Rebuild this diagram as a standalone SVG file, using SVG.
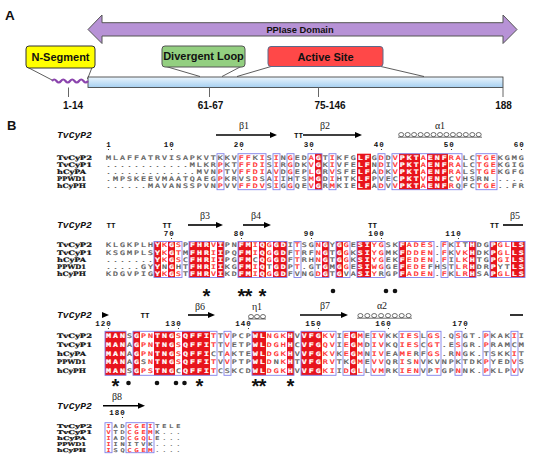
<svg xmlns="http://www.w3.org/2000/svg" width="550" height="471" viewBox="0 0 550 471">
<style>
.pl{font-family:"Liberation Sans",Arial,sans-serif;font-weight:bold;fill:#111}
.seq{font-family:"DejaVu Sans Mono",monospace;font-size:6.15px;letter-spacing:1.483px;fill:#5a5a5a;stroke:#5a5a5a;stroke-width:0.22px}
.s4{font-size:5.1px;letter-spacing:2.115px}
.r{fill:#ff2a2a;stroke:#ff2a2a}
.w{fill:#fff;stroke:#fff;font-weight:bold}
.nm{font-family:"DejaVu Serif",serif;font-weight:bold;font-size:6.15px;fill:#111;stroke:#111;stroke-width:0.2px}
.n4{font-size:5.1px}
.st{font-family:"Liberation Mono",monospace;font-weight:bold;font-style:italic;font-size:9.7px;fill:#111}
.gk{font-family:"Liberation Serif",serif;font-size:10px;fill:#222;text-anchor:middle}
.tt{font-family:"Liberation Mono",monospace;font-weight:bold;font-size:7.5px;fill:#111;text-anchor:middle}
.num{font-family:"Liberation Mono",monospace;font-weight:bold;font-size:7.5px;fill:#111;text-anchor:end;letter-spacing:1px}
.fl{fill:#e8141c}
.bx{fill:none;stroke:#8080ea;stroke-width:0.9}
.ar{stroke:#000;stroke-width:1.6}
.coil{fill:none;stroke:#333;stroke-width:0.7}
.star{font-family:"Liberation Mono",monospace;font-weight:bold;font-size:20px;letter-spacing:-5px;fill:#111}
.cl{stroke:#333;stroke-width:0.8;fill:none}
.tk{stroke:#666;stroke-width:1}
</style>
<defs>
<linearGradient id="bar" x1="0" y1="0" x2="0" y2="1"><stop offset="0" stop-color="#eaf5fd"/><stop offset="1" stop-color="#a6d0f1"/></linearGradient>
<ellipse id="lp" cx="0" cy="0" rx="2.5" ry="2.1" class="coil"/>
<polygon id="ah" points="0,-3 7,0 0,3" fill="#000"/>
</defs>

<g id="panelA">
<text class="pl" x="5" y="20" font-size="13.5">A</text>
<g id="ppiase">
<polygon points="88,29.5 102,15 102,22.7 503,22.7 503,15 517,29.5 503,43.5 503,36 102,36 102,43.5" fill="#b792d6" stroke="#555" stroke-width="1"/>
<text class="pl" x="300" y="33" font-size="9.3" text-anchor="middle" fill="#1a1a1a">PPIase Domain</text>
</g>
<g id="callouts">
<line class="cl" x1="27" y1="67" x2="52" y2="80"/>
<line class="cl" x1="92" y1="67.5" x2="87.5" y2="79"/>
<line class="cl" x1="166" y1="66.5" x2="200" y2="76.5"/>
<line class="cl" x1="241" y1="66.5" x2="222" y2="76.5"/>
<line class="cl" x1="271" y1="66.5" x2="237" y2="76.5"/>
<line class="cl" x1="381" y1="66.5" x2="424" y2="76.5"/>
</g>
<g id="nseg">
<rect x="26" y="46" width="69" height="22" rx="3" fill="#ffff00" stroke="#333" stroke-width="1"/>
<text class="pl" x="60.5" y="61" font-size="11" text-anchor="middle">N-Segment</text>
</g>
<g id="divloop">
<rect x="162" y="46" width="83" height="21" rx="3" fill="#93cf80" stroke="#555" stroke-width="1"/>
<text class="pl" x="203.5" y="60" font-size="11" text-anchor="middle">Divergent Loop</text>
</g>
<g id="active">
<rect x="268" y="46.5" width="115" height="20" rx="3" fill="#ff4848" stroke="#5a6a8a" stroke-width="1"/>
<text class="pl" x="325.5" y="60.5" font-size="11" text-anchor="middle">Active Site</text>
</g>
<g id="bar188">
<rect x="88" y="77" width="415" height="10.5" fill="url(#bar)" stroke="#333" stroke-width="0.8"/>
<path d="M52,81 q2.25,-3 4.5,0 t4.5,0 t4.5,0 t4.5,0 t4.5,0 t4.5,0 t4.5,0 t4.5,0" fill="none" stroke="#8b44ad" stroke-width="2.2"/>
<line class="tk" x1="68.5" y1="87.5" x2="68.5" y2="97"/>
<line class="tk" x1="209.5" y1="87.5" x2="209.5" y2="97"/>
<line class="tk" x1="318.5" y1="87.5" x2="318.5" y2="97"/>
<line class="tk" x1="503" y1="87.5" x2="503" y2="97"/>
<text class="pl" font-size="10" text-anchor="middle" y="109"><tspan x="73">1-14</tspan><tspan x="210.5">61-67</tspan><tspan x="330">75-146</tspan><tspan x="503.5">188</tspan></text>
</g>
</g>

<g id="panelB">
<text class="pl" x="7" y="130" font-size="13">B</text>

<g id="block1">
<g id="b1-struct">
<text class="st" x="57" y="138">TvCyP2</text>
<line class="ar" x1="216" y1="135" x2="271" y2="135"/><use href="#ah" x="270" y="135"/>
<text class="gk" x="244" y="129">β1</text>
<text class="tt" x="298.5" y="137.5">TT</text>
<line class="ar" x1="303" y1="135" x2="356" y2="135"/><use href="#ah" x="355" y="135"/>
<text class="gk" x="325" y="129">β2</text>
<line class="coil" x1="398" y1="137.2" x2="482" y2="137.2"/>
<use href="#lp" x="401.2" y="134.6"/><use href="#lp" x="407.7" y="134.6"/><use href="#lp" x="414.1" y="134.6"/><use href="#lp" x="420.6" y="134.6"/><use href="#lp" x="427" y="134.6"/><use href="#lp" x="433.5" y="134.6"/><use href="#lp" x="440" y="134.6"/><use href="#lp" x="446.4" y="134.6"/><use href="#lp" x="452.9" y="134.6"/><use href="#lp" x="459.3" y="134.6"/><use href="#lp" x="465.8" y="134.6"/><use href="#lp" x="472.3" y="134.6"/><use href="#lp" x="478.7" y="134.6"/>
<text class="gk" x="440" y="129">α1</text>
<text class="num" y="147"><tspan x="111.75">1</tspan><tspan x="174.75">10</tspan><tspan x="244.75">20</tspan><tspan x="314.75">30</tspan><tspan x="384.75">40</tspan><tspan x="454.75">50</tspan><tspan x="524.75">60</tspan></text>
<g fill="#111"><circle cx="108.5" cy="149.5" r="0.6"/><circle cx="171.5" cy="149.5" r="0.6"/><circle cx="241.5" cy="149.5" r="0.6"/><circle cx="311.5" cy="149.5" r="0.6"/><circle cx="381.5" cy="149.5" r="0.6"/><circle cx="451.5" cy="149.5" r="0.6"/><circle cx="521.5" cy="149.5" r="0.6"/></g>
</g>
<g id="b1-fill">
<rect class="fl" x="315" y="153.7" width="7" height="36"/>
<rect class="fl" x="357" y="153.7" width="14" height="36"/>
<rect class="fl" x="399" y="153.7" width="21" height="36"/>
<rect class="fl" x="427" y="153.7" width="21" height="36"/>
</g>
<g id="b1-box">
<rect class="bx" x="217" y="153.7" width="7" height="36"/>
<rect class="bx" x="238" y="153.7" width="28" height="36"/>
<rect class="bx" x="273" y="153.7" width="7" height="36"/>
<rect class="bx" x="287" y="153.7" width="7" height="36"/>
<rect class="bx" x="308" y="153.7" width="14" height="36"/>
<rect class="bx" x="329" y="153.7" width="7" height="36"/>
<rect class="bx" x="378" y="153.7" width="7" height="36"/>
<rect class="bx" x="392" y="153.7" width="70" height="36"/>
<rect class="bx" x="476" y="153.7" width="21" height="36"/>
</g>
<g id="b1-names" class="nm">
<text x="57" y="159.55" textLength="35" lengthAdjust="spacingAndGlyphs">TvCyP2</text>
<text x="57" y="166.75" textLength="35" lengthAdjust="spacingAndGlyphs">TvCyP1</text>
<text x="57" y="173.95" textLength="29" lengthAdjust="spacingAndGlyphs">hCyPA</text>
<text x="57" y="181.15" textLength="29" lengthAdjust="spacingAndGlyphs">PPWD1</text>
<text x="57" y="188.35" textLength="29" lengthAdjust="spacingAndGlyphs">hCyPH</text>
</g>
<g id="b1-seq" transform="translate(105 0) scale(1.35 1)">
<text class="seq" x="0.7" y="159.55">MLAFFATRVISAPKVTKKV<tspan class="r">FF</tspan>K<tspan class="r">I</tspan>S<tspan class="r">I</tspan>N<tspan class="r">G</tspan>ED<tspan class="r">A</tspan><tspan class="w">G</tspan>T<tspan class="r">I</tspan>KFG<tspan class="w">LF</tspan>G<tspan class="r">D</tspan>D<tspan class="r">V</tspan><tspan class="w">PKT</tspan><tspan class="r">A</tspan><tspan class="w">ENF</tspan><tspan class="r">RA</tspan>LC<tspan class="r">TGE</tspan>KGMG</text>
<text class="seq" x="0.7" y="166.75">............MLKR<tspan class="r">P</tspan>KT<tspan class="r">FFDI</tspan>S<tspan class="r">I</tspan>R<tspan class="r">G</tspan>DK<tspan class="r">V</tspan><tspan class="w">G</tspan>K<tspan class="r">I</tspan>VFE<tspan class="w">LF</tspan>N<tspan class="r">D</tspan>I<tspan class="r">V</tspan><tspan class="w">PKT</tspan><tspan class="r">A</tspan><tspan class="w">ENF</tspan><tspan class="r">RA</tspan>LC<tspan class="r">TGE</tspan>KGIG</text>
<text class="seq" x="0.7" y="173.95">.............MVN<tspan class="r">P</tspan>TV<tspan class="r">FFDI</tspan>A<tspan class="r">V</tspan>D<tspan class="r">G</tspan>EP<tspan class="r">L</tspan><tspan class="w">G</tspan>R<tspan class="r">V</tspan>SFE<tspan class="w">LF</tspan>A<tspan class="r">D</tspan>K<tspan class="r">V</tspan><tspan class="w">PKT</tspan><tspan class="r">A</tspan><tspan class="w">ENF</tspan><tspan class="r">RA</tspan>LS<tspan class="r">TGE</tspan>KGFG</text>
<text class="seq" x="0.7" y="181.15">.MPSKEEVMAATQAEG<tspan class="r">P</tspan>KRVS<tspan class="r">D</tspan>SA<tspan class="r">I</tspan>IHTS<tspan class="r">M</tspan><tspan class="w">G</tspan>D<tspan class="r">I</tspan>HTK<tspan class="w">LF</tspan>PVEC<tspan class="w">PKT</tspan><tspan class="r">V</tspan><tspan class="w">ENF</tspan>C<tspan class="r">V</tspan>HSRN.....</text>
<text class="seq" x="0.7" y="188.35">......MAVANSSPVN<tspan class="r">P</tspan>VV<tspan class="r">FFDV</tspan>S<tspan class="r">I</tspan>G<tspan class="r">G</tspan>QE<tspan class="r">V</tspan><tspan class="w">G</tspan>R<tspan class="r">M</tspan>KIE<tspan class="w">LF</tspan>A<tspan class="r">D</tspan>V<tspan class="r">V</tspan><tspan class="w">PKT</tspan><tspan class="r">A</tspan><tspan class="w">ENF</tspan><tspan class="r">R</tspan>QFC<tspan class="r">TGE</tspan>..FR</text>
</g>
</g>

<g id="block2">
<g id="b2-struct">
<text class="st" x="57" y="228">TvCyP2</text>
<text class="tt" x="111" y="228">TT</text>
<text class="tt" x="167" y="228">TT</text>
<line class="ar" x1="188" y1="225" x2="217" y2="225"/><use href="#ah" x="216" y="225"/>
<text class="gk" x="205" y="219">β3</text>
<line class="ar" x1="243" y1="225" x2="265" y2="225"/><use href="#ah" x="264" y="225"/>
<text class="gk" x="256" y="219">β4</text>
<text class="tt" x="372.5" y="228">TT</text>
<text class="tt" x="494.5" y="228">TT</text>
<line class="ar" x1="503" y1="225" x2="523" y2="225"/>
<text class="gk" x="515" y="219">β5</text>
<text class="num" y="236"><tspan x="174.75">70</tspan><tspan x="244.75">80</tspan><tspan x="314.75">90</tspan><tspan x="384.75">100</tspan><tspan x="461.75">110</tspan></text>
<g fill="#111"><circle cx="171.5" cy="238.5" r="0.6"/><circle cx="241.5" cy="238.5" r="0.6"/><circle cx="311.5" cy="238.5" r="0.6"/><circle cx="381.5" cy="238.5" r="0.6"/><circle cx="458.5" cy="238.5" r="0.6"/></g>
</g>
<g id="b2-fill">
<rect class="fl" x="154" y="241.5" width="7" height="36"/>
<rect class="fl" x="168" y="241.5" width="7" height="36"/>
<rect class="fl" x="189" y="241.5" width="21" height="36"/>
<rect class="fl" x="217" y="241.5" width="7" height="36"/>
<rect class="fl" x="238" y="241.5" width="14" height="36"/>
<rect class="fl" x="259" y="241.5" width="7" height="36"/>
<rect class="fl" x="273" y="241.5" width="14" height="36"/>
<rect class="fl" x="322" y="241.5" width="7" height="36"/>
<rect class="fl" x="336" y="241.5" width="7" height="36"/>
<rect class="fl" x="357" y="241.5" width="14" height="36"/>
<rect class="fl" x="399" y="241.5" width="7" height="36"/>
<rect class="fl" x="469" y="241.5" width="7" height="36"/>
<rect class="fl" x="490" y="241.5" width="7" height="36"/>
<rect class="fl" x="511" y="241.5" width="14" height="36"/>
</g>
<g id="b2-box">
<rect class="bx" x="154" y="241.5" width="28" height="36"/>
<rect class="bx" x="189" y="241.5" width="35" height="36"/>
<rect class="bx" x="238" y="241.5" width="49" height="36"/>
<rect class="bx" x="294" y="241.5" width="7" height="36"/>
<rect class="bx" x="315" y="241.5" width="14" height="36"/>
<rect class="bx" x="336" y="241.5" width="14" height="36"/>
<rect class="bx" x="357" y="241.5" width="28" height="36"/>
<rect class="bx" x="399" y="241.5" width="35" height="36"/>
<rect class="bx" x="441" y="241.5" width="7" height="36"/>
<rect class="bx" x="455" y="241.5" width="21" height="36"/>
<rect class="bx" x="490" y="241.5" width="35" height="36"/>
</g>
<g id="b2-names" class="nm">
<text x="57" y="247.35" textLength="35" lengthAdjust="spacingAndGlyphs">TvCyP2</text>
<text x="57" y="254.55" textLength="35" lengthAdjust="spacingAndGlyphs">TvCyP1</text>
<text x="57" y="261.75" textLength="29" lengthAdjust="spacingAndGlyphs">hCyPA</text>
<text x="57" y="268.95" textLength="29" lengthAdjust="spacingAndGlyphs">PPWD1</text>
<text x="57" y="276.15" textLength="29" lengthAdjust="spacingAndGlyphs">hCyPH</text>
</g>
<g id="b2-seq" transform="translate(105 0) scale(1.35 1)">
<text class="seq" x="0.7" y="247.35">KLGKPLH<tspan class="w">Y</tspan><tspan class="r">K</tspan><tspan class="w">G</tspan><tspan class="r">S</tspan>P<tspan class="w">FHR</tspan><tspan class="r">V</tspan><tspan class="w">I</tspan>PN<tspan class="w">FM</tspan><tspan class="r">I</tspan><tspan class="w">Q</tspan><tspan class="r">G</tspan><tspan class="w">GD</tspan>I<tspan class="r">T</tspan>SG<tspan class="r">N</tspan><tspan class="w">G</tspan>Y<tspan class="w">G</tspan><tspan class="r">G</tspan>E<tspan class="w">SI</tspan><tspan class="r">YG</tspan>SK<tspan class="w">F</tspan><tspan class="r">ADES</tspan>.<tspan class="r">F</tspan>K<tspan class="r">I</tspan>T<tspan class="w">H</tspan>DG<tspan class="w">P</tspan><tspan class="r">GL</tspan><tspan class="w">LS</tspan></text>
<text class="seq" x="0.7" y="254.55">KSGMPLS<tspan class="w">Y</tspan><tspan class="r">K</tspan><tspan class="w">G</tspan><tspan class="r">T</tspan>M<tspan class="w">FHR</tspan><tspan class="r">I</tspan><tspan class="w">I</tspan>PQ<tspan class="w">FM</tspan><tspan class="r">I</tspan><tspan class="w">Q</tspan><tspan class="r">G</tspan><tspan class="w">GD</tspan>F<tspan class="r">T</tspan>RF<tspan class="r">N</tspan><tspan class="w">G</tspan>T<tspan class="w">G</tspan><tspan class="r">G</tspan>K<tspan class="w">SI</tspan><tspan class="r">YG</tspan>MK<tspan class="w">F</tspan><tspan class="r">DDEN</tspan>.<tspan class="r">F</tspan>K<tspan class="r">VK</tspan><tspan class="w">H</tspan>DK<tspan class="w">P</tspan><tspan class="r">GL</tspan><tspan class="w">LS</tspan></text>
<text class="seq" x="0.7" y="261.75">.......<tspan class="w">Y</tspan><tspan class="r">K</tspan><tspan class="w">G</tspan><tspan class="r">S</tspan>C<tspan class="w">FHR</tspan><tspan class="r">I</tspan><tspan class="w">I</tspan>PG<tspan class="w">FM</tspan>C<tspan class="w">Q</tspan><tspan class="r">G</tspan><tspan class="w">GD</tspan>F<tspan class="r">T</tspan>RH<tspan class="r">N</tspan><tspan class="w">G</tspan>T<tspan class="w">G</tspan><tspan class="r">G</tspan>K<tspan class="w">SI</tspan><tspan class="r">YG</tspan>EK<tspan class="w">F</tspan><tspan class="r">EDEN</tspan>.<tspan class="r">F</tspan>I<tspan class="r">LK</tspan><tspan class="w">H</tspan>TG<tspan class="w">P</tspan><tspan class="r">GI</tspan><tspan class="w">LS</tspan></text>
<text class="seq" x="0.7" y="268.95">.....GY<tspan class="w">Y</tspan>N<tspan class="w">G</tspan>HT<tspan class="w">FHR</tspan><tspan class="r">I</tspan><tspan class="w">I</tspan>KG<tspan class="w">FM</tspan><tspan class="r">I</tspan><tspan class="w">Q</tspan>T<tspan class="w">GD</tspan>P<tspan class="r">T</tspan>.GT<tspan class="w">G</tspan>M<tspan class="w">G</tspan><tspan class="r">G</tspan>E<tspan class="w">SI</tspan><tspan class="r">WG</tspan>GE<tspan class="w">F</tspan><tspan class="r">EDE</tspan>FHST<tspan class="r">LR</tspan><tspan class="w">H</tspan>DR<tspan class="w">P</tspan>YT<tspan class="w">LS</tspan></text>
<text class="seq" x="0.7" y="276.15">KDGVPIG<tspan class="w">Y</tspan><tspan class="r">K</tspan><tspan class="w">G</tspan><tspan class="r">S</tspan>T<tspan class="w">FHR</tspan><tspan class="r">V</tspan><tspan class="w">I</tspan>KD<tspan class="w">FM</tspan><tspan class="r">I</tspan><tspan class="w">Q</tspan><tspan class="r">G</tspan><tspan class="w">GD</tspan>FVNG<tspan class="r">D</tspan><tspan class="w">G</tspan>T<tspan class="w">G</tspan>VA<tspan class="w">SI</tspan><tspan class="r">Y</tspan>RGP<tspan class="w">F</tspan><tspan class="r">ADEN</tspan>.<tspan class="r">F</tspan>K<tspan class="r">LR</tspan><tspan class="w">H</tspan>SA<tspan class="w">P</tspan><tspan class="r">GL</tspan><tspan class="w">LS</tspan></text>
</g>
<g id="b2-marks">
<text class="star" x="200.5" y="303.5" xml:space="preserve">*    ** *</text>
<g fill="#111"><circle cx="333" cy="291" r="2.3"/><circle cx="386" cy="291" r="2.3"/><circle cx="395" cy="291" r="2.3"/></g>
</g>
</g>

<g id="block3">
<g id="b3-struct">
<text class="st" x="57" y="318">TvCyP2</text>
<use href="#ah" x="102" y="315"/>
<text class="tt" x="145" y="318">TT</text>
<line class="ar" x1="188" y1="315" x2="209" y2="315"/><use href="#ah" x="208" y="315"/>
<text class="gk" x="200" y="309.5">β6</text>
<line class="coil" x1="248" y1="319" x2="266" y2="319"/>
<use href="#lp" x="251" y="316.6"/><use href="#lp" x="257" y="316.6"/><use href="#lp" x="263" y="316.6"/>
<text class="gk" x="257" y="310">η1</text>
<line class="ar" x1="300" y1="315" x2="342" y2="315"/><use href="#ah" x="341" y="315"/>
<text class="gk" x="325" y="309">β7</text>
<line class="coil" x1="357" y1="318.2" x2="412" y2="318.2"/>
<use href="#lp" x="360.4" y="315.6"/><use href="#lp" x="367.3" y="315.6"/><use href="#lp" x="374.2" y="315.6"/><use href="#lp" x="381.1" y="315.6"/><use href="#lp" x="388" y="315.6"/><use href="#lp" x="394.8" y="315.6"/><use href="#lp" x="401.7" y="315.6"/><use href="#lp" x="408.6" y="315.6"/>
<text class="gk" x="382" y="309">α2</text>
<line class="ar" x1="510" y1="315" x2="523" y2="315"/>
<text class="num" y="326"><tspan x="111.75">120</tspan><tspan x="181.75">130</tspan><tspan x="251.75">140</tspan><tspan x="321.75">150</tspan><tspan x="391.75">160</tspan><tspan x="468.75">170</tspan></text>
<g fill="#111"><circle cx="108.5" cy="328.5" r="0.6"/><circle cx="178.5" cy="328.5" r="0.6"/><circle cx="248.5" cy="328.5" r="0.6"/><circle cx="318.5" cy="328.5" r="0.6"/><circle cx="388.5" cy="328.5" r="0.6"/><circle cx="465.5" cy="328.5" r="0.6"/></g>
</g>
<g id="b3-fill">
<rect class="fl" x="105" y="331.3" width="21" height="44"/>
<rect class="fl" x="133" y="331.3" width="7" height="44"/>
<rect class="fl" x="154" y="331.3" width="21" height="44"/>
<rect class="fl" x="182" y="331.3" width="28" height="44"/>
<rect class="fl" x="252" y="331.3" width="14" height="44"/>
<rect class="fl" x="287" y="331.3" width="7" height="44"/>
<rect class="fl" x="301" y="331.3" width="21" height="44"/>
<rect class="fl" x="350" y="331.3" width="7" height="44"/>
</g>
<g id="b3-box">
<rect class="bx" x="105" y="331.3" width="21" height="44"/>
<rect class="bx" x="133" y="331.3" width="84" height="44"/>
<rect class="bx" x="224" y="331.3" width="7" height="44"/>
<rect class="bx" x="252" y="331.3" width="42" height="44"/>
<rect class="bx" x="301" y="331.3" width="35" height="44"/>
<rect class="bx" x="343" y="331.3" width="21" height="44"/>
<rect class="bx" x="371" y="331.3" width="14" height="44"/>
<rect class="bx" x="399" y="331.3" width="21" height="44"/>
<rect class="bx" x="427" y="331.3" width="14" height="44"/>
<rect class="bx" x="455" y="331.3" width="7" height="44"/>
<rect class="bx" x="483" y="331.3" width="7" height="44"/>
<rect class="bx" x="511" y="331.3" width="7" height="44"/>
</g>
<g id="b3-names" class="nm">
<text x="57" y="337.95" textLength="35" lengthAdjust="spacingAndGlyphs">TvCyP2</text>
<text x="57" y="346.75" textLength="35" lengthAdjust="spacingAndGlyphs">TvCyP1</text>
<text x="57" y="355.55" textLength="29" lengthAdjust="spacingAndGlyphs">hCyPA</text>
<text x="57" y="364.35" textLength="29" lengthAdjust="spacingAndGlyphs">PPWD1</text>
<text x="57" y="373.15" textLength="29" lengthAdjust="spacingAndGlyphs">hCyPH</text>
</g>
<g id="b3-seq" transform="translate(105 0) scale(1.35 1)">
<text class="seq" x="0.7" y="337.95"><tspan class="w">MAN</tspan>S<tspan class="w">G</tspan><tspan class="r">PN</tspan><tspan class="w">TNG</tspan><tspan class="r">S</tspan><tspan class="w">QFFI</tspan><tspan class="r">T</tspan>T<tspan class="r">V</tspan>PCP<tspan class="w">WL</tspan><tspan class="r">NGK</tspan><tspan class="w">H</tspan>V<tspan class="w">VFG</tspan><tspan class="r">KV</tspan>I<tspan class="r">E</tspan><tspan class="w">G</tspan><tspan class="r">M</tspan>E<tspan class="r">IV</tspan>KK<tspan class="r">IES</tspan>L<tspan class="r">GS</tspan>.Q<tspan class="r">S</tspan>GT.<tspan class="r">P</tspan>KAK<tspan class="r">I</tspan>I</text>
<text class="seq" x="0.7" y="346.75"><tspan class="w">MAN</tspan>A<tspan class="w">G</tspan><tspan class="r">PN</tspan><tspan class="w">TNG</tspan><tspan class="r">S</tspan><tspan class="w">QFFI</tspan><tspan class="r">T</tspan>T<tspan class="r">V</tspan>ETP<tspan class="w">WL</tspan><tspan class="r">DGH</tspan><tspan class="w">H</tspan>C<tspan class="w">VFG</tspan><tspan class="r">QV</tspan>I<tspan class="r">E</tspan><tspan class="w">G</tspan><tspan class="r">M</tspan>D<tspan class="r">IV</tspan>KQ<tspan class="r">IES</tspan>C<tspan class="r">GT</tspan>.E<tspan class="r">S</tspan>GR.<tspan class="r">P</tspan>RAMCM</text>
<text class="seq" x="0.7" y="355.55"><tspan class="w">MAN</tspan>A<tspan class="w">G</tspan><tspan class="r">PN</tspan><tspan class="w">TNG</tspan><tspan class="r">S</tspan><tspan class="w">QFFI</tspan>CT<tspan class="r">A</tspan>KTE<tspan class="w">WL</tspan><tspan class="r">DGK</tspan><tspan class="w">H</tspan>V<tspan class="w">VFG</tspan><tspan class="r">KV</tspan>K<tspan class="r">E</tspan><tspan class="w">G</tspan><tspan class="r">M</tspan>N<tspan class="r">IV</tspan>EA<tspan class="r">ME</tspan>RF<tspan class="r">GS</tspan>.R<tspan class="r">N</tspan>GK.TSKK<tspan class="r">I</tspan>T</text>
<text class="seq" x="0.7" y="364.35"><tspan class="w">MAN</tspan>A<tspan class="w">G</tspan>S<tspan class="r">N</tspan><tspan class="w">TNG</tspan><tspan class="r">S</tspan><tspan class="w">QFFI</tspan><tspan class="r">T</tspan>V<tspan class="r">V</tspan>PTP<tspan class="w">WL</tspan><tspan class="r">D</tspan>N<tspan class="r">K</tspan><tspan class="w">H</tspan>T<tspan class="w">VFG</tspan><tspan class="r">RV</tspan>TK<tspan class="w">G</tspan><tspan class="r">M</tspan>E<tspan class="r">VV</tspan>QR<tspan class="r">I</tspan>S<tspan class="r">N</tspan>VKVNPKTDK<tspan class="r">P</tspan>YED<tspan class="r">V</tspan>S</text>
<text class="seq" x="0.7" y="373.15"><tspan class="w">MAN</tspan>S<tspan class="w">G</tspan><tspan class="r">PS</tspan><tspan class="w">TNG</tspan>C<tspan class="w">QFFI</tspan><tspan class="r">T</tspan>CSKCD<tspan class="w">WL</tspan><tspan class="r">DGK</tspan><tspan class="w">H</tspan>V<tspan class="w">VFG</tspan><tspan class="r">KI</tspan>I<tspan class="r">D</tspan><tspan class="w">G</tspan><tspan class="r">L</tspan>L<tspan class="r">VM</tspan>RK<tspan class="r">IEN</tspan>VP<tspan class="r">T</tspan>GP<tspan class="r">N</tspan>NK.<tspan class="r">P</tspan>KLP<tspan class="r">V</tspan>V</text>
</g>
<g id="b3-marks">
<text class="star" x="109.5" y="393.5" xml:space="preserve">*           *       **   *</text>
<g fill="#111"><circle cx="128.5" cy="383" r="2.3"/><circle cx="157" cy="383" r="2.3"/><circle cx="176" cy="383" r="2.3"/><circle cx="184.5" cy="383" r="2.3"/></g>
</g>
</g>

<g id="block4">
<g id="b4-struct">
<text class="st" x="57" y="409">TvCyP2</text>
<line class="ar" x1="103" y1="405.7" x2="139" y2="405.7"/><use href="#ah" x="138" y="405.7"/>
<text class="gk" x="117" y="399.5">β8</text>
<text class="num" y="415"><tspan x="125.75">180</tspan></text>
<circle cx="122.5" cy="417.5" r="0.6" fill="#111"/>
</g>
<g id="b4-box">
<rect class="bx" x="105" y="422.7" width="7" height="30"/>
<rect class="bx" x="126" y="422.7" width="21" height="30"/>
<rect class="bx" x="147" y="422.7" width="7" height="30"/>
</g>
<g id="b4-names" class="nm n4">
<text x="57" y="427.55" textLength="35" lengthAdjust="spacingAndGlyphs">TvCyP2</text>
<text x="57" y="433.55" textLength="35" lengthAdjust="spacingAndGlyphs">TvCyP1</text>
<text x="57" y="439.55" textLength="29" lengthAdjust="spacingAndGlyphs">hCyPA</text>
<text x="57" y="445.55" textLength="29" lengthAdjust="spacingAndGlyphs">PPWD1</text>
<text x="57" y="451.55" textLength="29" lengthAdjust="spacingAndGlyphs">hCyPH</text>
</g>
<g id="b4-seq" transform="translate(105 0) scale(1.35 1)">
<text class="seq s4" x="1.05" y="427.55"><tspan class="r">I</tspan>AD<tspan class="r">CGEI</tspan>TELE</text>
<text class="seq s4" x="1.05" y="433.55"><tspan class="r">V</tspan>TD<tspan class="r">CGEM</tspan>K...</text>
<text class="seq s4" x="1.05" y="439.55"><tspan class="r">I</tspan>AD<tspan class="r">CGQL</tspan>E...</text>
<text class="seq s4" x="1.05" y="445.55"><tspan class="r">I</tspan>INITVK....</text>
<text class="seq s4" x="1.05" y="451.55"><tspan class="r">I</tspan>SQ<tspan class="r">CGEM</tspan>....</text>
</g>
</g>
</g>
</svg>
